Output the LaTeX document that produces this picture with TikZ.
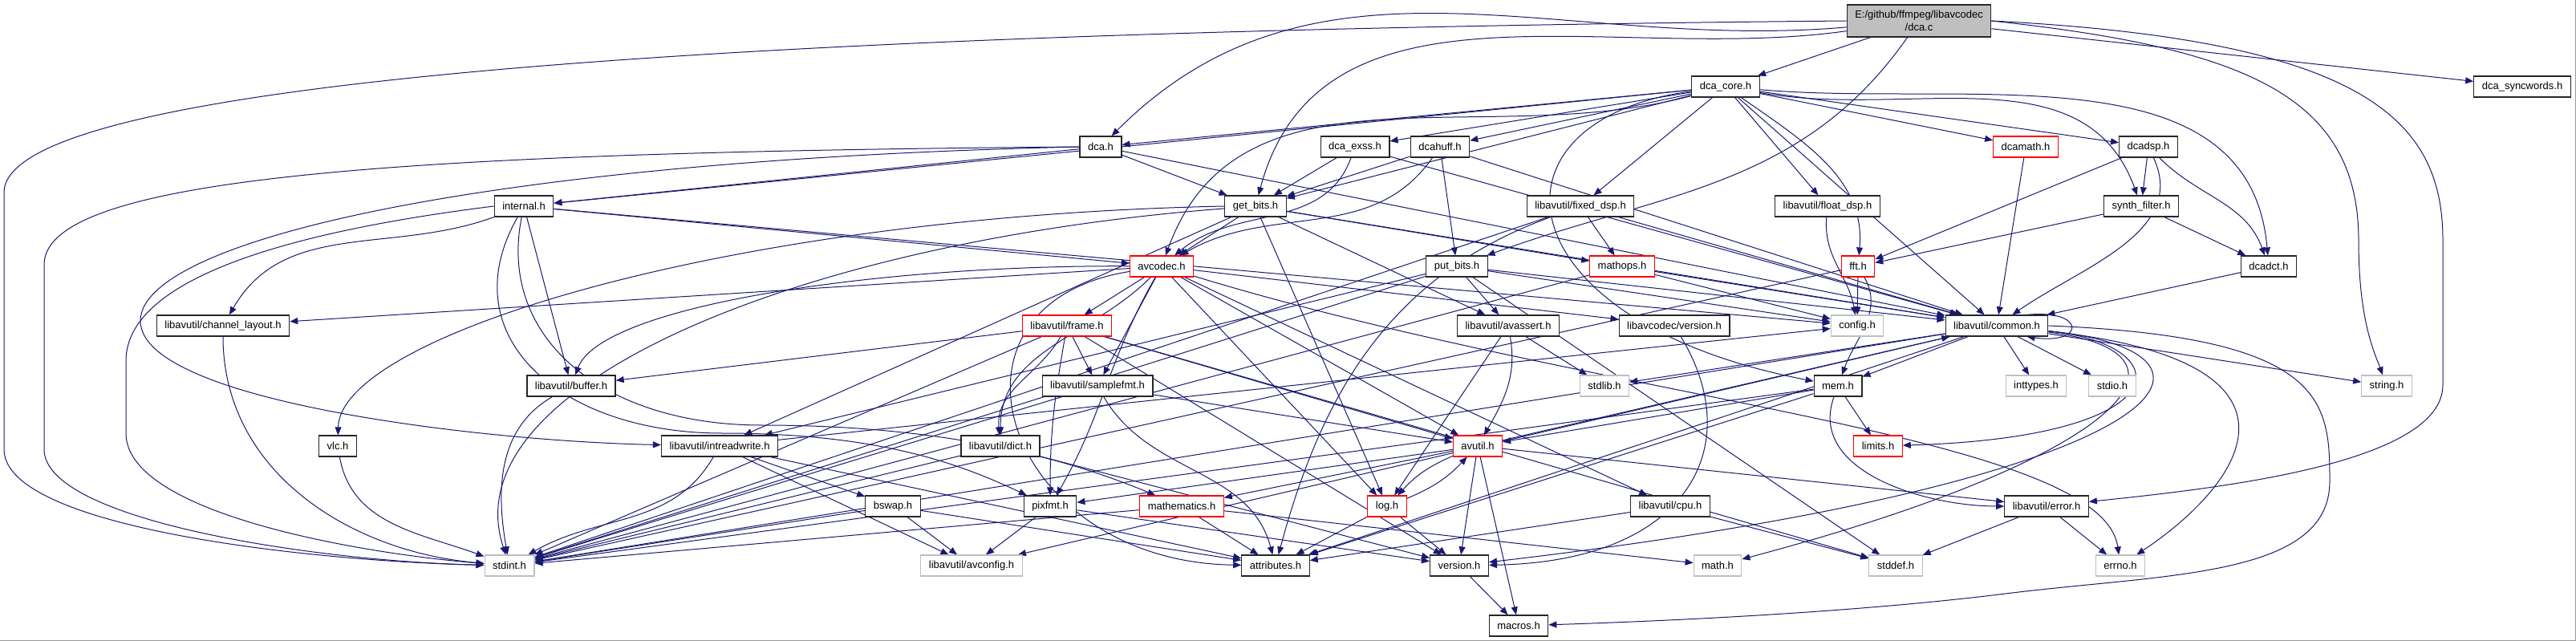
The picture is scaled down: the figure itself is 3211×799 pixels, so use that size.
\documentclass[tikz,border=0pt]{standalone}
\usepackage{fontspec}
\setmainfont{Liberation Sans}
\usetikzlibrary{arrows.meta}
\pgfdeclarelayer{background}
\pgfsetlayers{background,main}
\definecolor{edgeblue}{HTML}{191970}
\definecolor{sysgray}{HTML}{BFBFBF}
\tikzset{
  hdr/.style={draw=black!85,fill=white,line width=1.25pt,minimum height=26pt,inner xsep=10pt,inner ysep=0pt},
  redhdr/.style={hdr,draw=red,line width=1.1pt},
  syshdr/.style={hdr,draw=sysgray,line width=1.1pt},
  srchdr/.style={hdr,fill=sysgray,align=center,minimum height=40pt},
  dep/.style={->,draw=edgeblue,line width=1pt},
}
\begin{document}
\begin{tikzpicture}[x=1pt,y=-1pt,font=\fontsize{13}{15.5}\selectfont,>={Triangle[length=10pt,width=8pt]}]
\useasboundingbox (0,0) rectangle (3211,799);
\draw[sysgray!80!black,line width=1.5pt] (0,798.5)--(3210.5,798.5)--(3210.5,0);
% top rows
\node[srchdr] (dcac) at (2392,26) {E:/github/ffmpeg/libavcodec\\/dca.c};
\node[hdr] (dcacore) at (2151,108) {dca\_core.h};
\node[hdr] (syncwords) at (3144,108) {dca\_syncwords.h};
\node[hdr] (dca) at (1372,183) {dca.h};
\node[hdr] (dcaexss) at (1689,183) {dca\_exss.h};
\node[hdr] (dcahuff) at (1795,183) {dcahuff.h};
\node[redhdr] (dcamath) at (2525,183) {dcamath.h};
\node[hdr] (dcadsp) at (2678,183) {dcadsp.h};
\node[hdr] (internal) at (653,257) {internal.h};
\node[hdr] (getbits) at (1565,257) {get\_bits.h};
\node[hdr] (fixeddsp) at (1970,257) {libavutil/fixed\_dsp.h};
\node[hdr] (floatdsp) at (2278,257) {libavutil/float\_dsp.h};
\node[hdr] (synthfilter) at (2669,257) {synth\_filter.h};
\node[redhdr] (avcodec) at (1448,332) {avcodec.h};
\node[hdr] (putbits) at (1816,332) {put\_bits.h};
\node[redhdr] (mathops) at (2022,332) {mathops.h};
\node[redhdr] (fft) at (2316,332) {fft.h};
\node[hdr] (dcadct) at (2828,332) {dcadct.h};
% middle rows
\node[hdr] (chlayout) at (278,406) {libavutil/channel\_layout.h};
\node[redhdr] (frame) at (1330,406) {libavutil/frame.h};
\node[hdr] (avassert) at (1880,406) {libavutil/avassert.h};
\node[hdr] (lcversion) at (2087,406) {libavcodec/version.h};
\node[syshdr] (config) at (2315,406) {config.h};
\node[hdr] (common) at (2489,406) {libavutil/common.h};
\node[hdr] (buffer) at (712,481) {libavutil/buffer.h};
\node[hdr] (samplefmt) at (1368,481) {libavutil/samplefmt.h};
\node[syshdr] (stdlib) at (2000,481) {stdlib.h};
\node[hdr] (mem) at (2291,481) {mem.h};
\node[syshdr] (inttypes) at (2538,481) {inttypes.h};
\node[syshdr] (stdio) at (2633,481) {stdio.h};
\node[syshdr] (stringh) at (2975,481) {string.h};
\node[hdr] (vlc) at (421,556) {vlc.h};
\node[hdr] (intrw) at (897,556) {libavutil/intreadwrite.h};
\node[hdr] (dict) at (1247,556) {libavutil/dict.h};
\node[redhdr] (avutil) at (1842,556) {avutil.h};
\node[redhdr] (limits) at (2341,556) {limits.h};
% bottom rows
\node[hdr] (bswap) at (1113,631) {bswap.h};
\node[hdr] (pixfmt) at (1309,631) {pixfmt.h};
\node[redhdr] (mathematics) at (1473,631) {mathematics.h};
\node[redhdr] (log) at (1729,631) {log.h};
\node[hdr] (cpu) at (2082,631) {libavutil/cpu.h};
\node[hdr] (error) at (2551,631) {libavutil/error.h};
\node[syshdr] (stdint) at (635,705) {stdint.h};
\node[syshdr] (avconfig) at (1211,705) {libavutil/avconfig.h};
\node[hdr] (attributes) at (1590,705) {attributes.h};
\node[hdr] (version) at (1819,705) {version.h};
\node[syshdr] (mathh) at (2141,705) {math.h};
\node[syshdr] (stddef) at (2363,705) {stddef.h};
\node[syshdr] (errno) at (2643,705) {errno.h};
\node[hdr] (macros) at (1893,780) {macros.h};
\begin{pgfonlayer}{background}
% dca.c
\draw[dep] (dcac)--(dcacore); \draw[dep] (dcac)--(syncwords);
\draw[dep] (dcac) to[out=235,in=20] (putbits); \draw[dep] (dcac) to[out=185,in=45] (dca); \draw[dep] (dcac) to[out=188,in=75] (getbits);
\draw[dep] (dcac.west) .. controls (800,40) and (5,110) .. (5,240) -- (5,560) .. controls (5,660) and (400,700) .. (stdint);
\draw[dep] (dcac.east) .. controls (2800,60) and (2940,120) .. (2940,300) .. controls (2940,400) and (2960,440) .. (stringh);
\draw[dep] (dcac.east) .. controls (2950,50) and (3045,150) .. (3045,300) -- (3045,480) .. controls (3045,580) and (2750,610) .. (error);
% dca_core.h
\draw[dep] (dcacore)--(dcaexss); \draw[dep] (dcacore)--(dcahuff); \draw[dep] (dcacore)--(fixeddsp); \draw[dep] (dcacore)--(floatdsp);
\draw[dep] (dcacore)--(dca); \draw[dep] (dcacore)--(internal); \draw[dep] (dcacore)--(getbits);
\draw[dep] (dcacore) to[out=195,in=70] (avcodec); \draw[dep] (dcacore) to[out=-35,in=85] (fft);
\draw[dep] (dcacore)--(dcamath); \draw[dep] (dcacore)--(dcadsp);
\draw[dep] (dcacore) to[out=-10,in=110] (synthfilter); \draw[dep] (dcacore) to[out=-5,in=95] (dcadct);
\draw[dep] (dcacore)--(common); \draw[dep] (dcacore) .. controls (1840,150) and (1870,400) .. (mem);
% dca.h, dca_exss.h, dcahuff.h
\draw[dep] (dca)--(getbits); \draw[dep] (dca)--(internal); \draw[dep] (dca)--(common);
\draw[dep] (dca.west) .. controls (500,190) and (55,220) .. (55,330) -- (55,560) .. controls (55,650) and (400,700) .. (stdint);
\draw[dep] (dca.west) .. controls (600,200) and (175,300) .. (175,400) .. controls (175,500) and (600,550) .. (intrw);
\draw[dep] (dcaexss)--(getbits); \draw[dep] (dcaexss) to[out=250,in=40] (avcodec); \draw[dep] (dcaexss)--(common);
\draw[dep] (dcahuff)--(putbits); \draw[dep] (dcahuff)--(getbits); \draw[dep] (dcahuff) to[out=235,in=30] (avcodec); \draw[dep] (dcahuff)--(common);
% dsp side
\draw[dep] (dcamath)--(common);
\draw[dep] (dcadsp)--(synthfilter); \draw[dep] (dcadsp) to[out=-45,in=110] (dcadct); \draw[dep] (dcadsp)--(fft); \draw[dep] (dcadsp) to[out=-65,in=35] (common);
\draw[dep] (synthfilter)--(fft); \draw[dep] (synthfilter)--(dcadct); \draw[dep] (dcadct)--(common);
% internal.h
\draw[dep] (internal) to[out=200,in=60] (chlayout); \draw[dep] (internal)--(buffer); \draw[dep] (internal)--(avcodec); \draw[dep] (internal)--(config);
\draw[dep] (internal.west) .. controls (350,290) and (157,350) .. (157,450) -- (157,540) .. controls (157,640) and (450,690) .. (stdint);
\draw[dep] (internal) .. controls (560,420) and (700,540) .. (900,540) .. controls (1100,540) and (1200,580) .. (pixfmt);
\draw[dep] (internal) .. controls (620,420) and (750,530) .. (950,530) .. controls (1200,530) and (1350,580) .. (mathematics);
% get_bits.h
\draw[dep] (getbits)--(avcodec); \draw[dep] (getbits)--(log); \draw[dep] (getbits)--(intrw); \draw[dep] (getbits)--(mathops); \draw[dep] (getbits)--(avassert); \draw[dep] (getbits)--(common);
\draw[dep] (getbits.west) .. controls (900,270) and (424,420) .. (vlc);
\draw[dep] (getbits) .. controls (1000,300) and (560,480) .. (stdint);
% avcodec.h
\draw[dep] (avcodec)--(frame); \draw[dep] (avcodec)--(samplefmt); \draw[dep] (avcodec)--(avutil); \draw[dep] (avcodec)--(cpu);
\draw[dep] (avcodec)--(chlayout); \draw[dep] (avcodec)--(log); \draw[dep] (avcodec)--(lcversion);
\draw[dep] (avcodec) to[out=225,in=90] (dict); \draw[dep] (avcodec) to[out=240,in=60] (pixfmt);
\draw[dep] (avcodec) .. controls (1150,380) and (1250,700) .. (attributes);
\draw[dep] (avcodec) .. controls (1100,330) and (750,380) .. (buffer);
\draw[dep] (avcodec) .. controls (2000,500) and (2620,540) .. (errno);
% frame.h
\draw[dep] (frame)--(avutil); \draw[dep] (frame)--(buffer); \draw[dep] (frame) to[out=240,in=95] (dict); \draw[dep] (frame)--(samplefmt);
\draw[dep] (frame) to[out=260,in=90] (pixfmt); \draw[dep] (frame)--(version); \draw[dep] (frame)--(stdint); \draw[dep] (frame)--(stddef);
% put_bits.h, mathops.h, fft.h, dsp headers
\draw[dep] (putbits)--(avassert); \draw[dep] (putbits)--(config); \draw[dep] (putbits)--(stddef); \draw[dep] (putbits)--(stdint); \draw[dep] (putbits)--(intrw); \draw[dep] (putbits)--(common);
\draw[dep] (mathops)--(common); \draw[dep] (mathops)--(config); \draw[dep] (mathops)--(stdint);
\draw[dep] (fft)--(config); \draw[dep] (fft) to[out=-60,in=70] (mem); \draw[dep] (fft)--(stdint);
\draw[dep] (fixeddsp)--(mathops); \draw[dep] (fixeddsp)--(common); \draw[dep] (fixeddsp) to[out=200,in=75] (attributes); \draw[dep] (fixeddsp)--(stdint);
\draw[dep] (floatdsp) to[out=-95,in=100] (config);
% small headers
\draw[dep] (chlayout) to[out=-90,in=175] (stdint); \draw[dep] (vlc) to[out=-80,in=160] (stdint); \draw[dep] (buffer) to[out=210,in=100] (stdint);
\draw[dep] (intrw)--(bswap); \draw[dep] (intrw)--(avconfig); \draw[dep] (intrw)--(attributes); \draw[dep] (intrw) to[out=240,in=30] (stdint); \draw[dep] (intrw)--(config);
\draw[dep] (dict)--(stdint); \draw[dep] (dict)--(version);
\draw[dep] (bswap)--(avconfig); \draw[dep] (bswap)--(attributes); \draw[dep] (bswap)--(stdint);
\draw[dep] (pixfmt)--(avconfig); \draw[dep] (pixfmt)--(version);
\draw[dep] (mathematics)--(attributes); \draw[dep] (mathematics)--(mathh); \draw[dep] (mathematics)--(stdint);
\draw[dep] (samplefmt)--(avutil); \draw[dep] (samplefmt) to[out=-60,in=105] (attributes); \draw[dep] (samplefmt)--(stdint);
\draw[dep] (avassert)--(stdlib); \draw[dep] (avassert) to[out=-80,in=60] (avutil); \draw[dep] (avassert)--(log);
\draw[dep] (lcversion) .. controls (2180,560) and (2100,700) .. (version);
% libavutil/common.h
\draw[dep] (common)--(inttypes); \draw[dep] (common)--(stdio); \draw[dep] (common)--(stringh);
\draw[dep] (common)--(stdint); \draw[dep] (common)--(stdlib); \draw[dep] (common)--(attributes); \draw[dep] (common)--(avconfig); \draw[dep] (common)--(mem);
\draw[dep] (common) .. controls (2720,430) and (2720,545) .. (limits);
\draw[dep] (common) .. controls (2760,440) and (2650,570) .. (mathh);
\draw[dep] (common) .. controls (2820,440) and (2720,600) .. (version);
\draw[dep] (common) .. controls (2900,450) and (2800,600) .. (errno);
\draw[dep] (common.east) .. controls (2900,420) and (2904,500) .. (2904,600) .. controls (2904,720) and (2700,715) .. (2500,740) .. controls (2300,765) and (2050,775) .. (macros);
\draw[dep] ([xshift=-27pt]common.north east) .. controls (2600,385) and (2600,430) .. ([xshift=-27pt]common.south east);
% mem.h, avutil.h, log.h and the rest
\draw[dep] (mem)--(limits); \draw[dep] (mem)--(stdint); \draw[dep] (mem)--(attributes); \draw[dep] (mem) to[out=250,in=180] (error); \draw[dep] (mem)--(avutil);
\draw[dep] (avutil)--(common); \draw[dep] (avutil)--(error); \draw[dep] (avutil)--(version); \draw[dep] (avutil)--(macros);
\draw[dep] (avutil)--(mathematics); \draw[dep] (avutil)--(pixfmt);
\draw[dep] (avutil) to[bend right=12] (log); \draw[dep] (log) to[bend right=12] (avutil);
\draw[dep] (log)--(attributes); \draw[dep] (log)--(version);
\draw[dep] (cpu)--(attributes); \draw[dep] (cpu)--(stddef);
\draw[dep] (error)--(errno); \draw[dep] (error)--(stddef);
\draw[dep] (version)--(macros);
\end{pgfonlayer}
\end{tikzpicture}
\end{document}
